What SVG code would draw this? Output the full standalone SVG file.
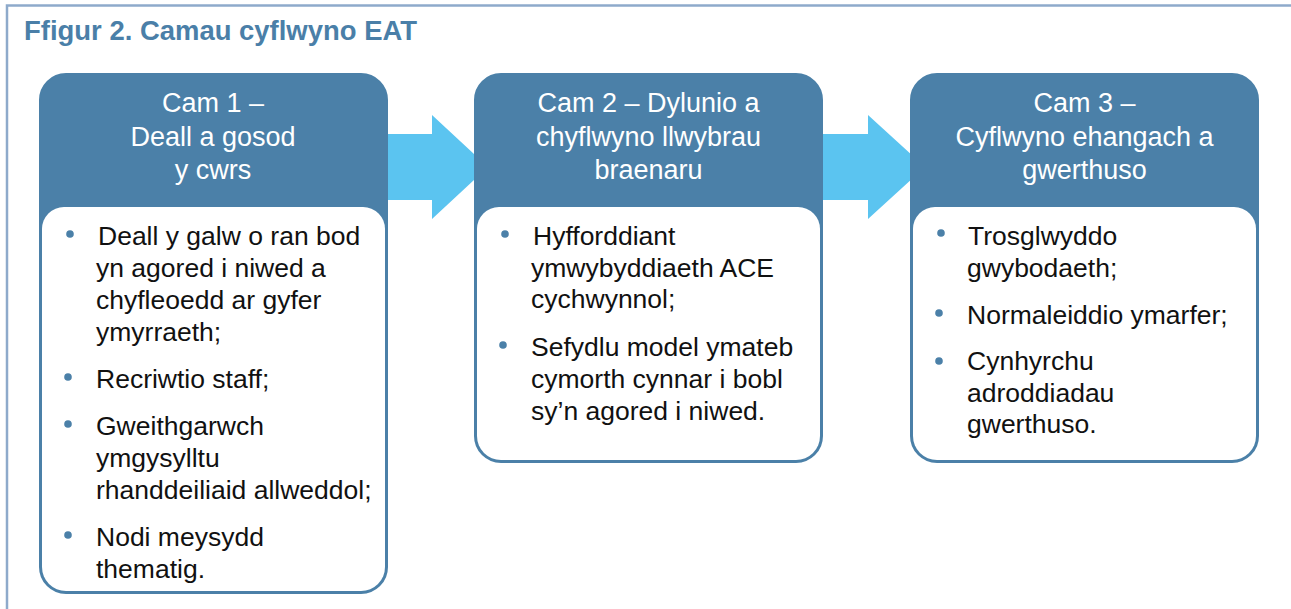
<svg xmlns="http://www.w3.org/2000/svg" width="1291" height="609" viewBox="0 0 1291 609">
<style>
  .frame{fill:none;stroke:#8eaacb;stroke-width:2.5}
  .title{font-family:"Liberation Sans",Arial,sans-serif;font-weight:bold;font-size:27px;fill:#4a7fa8}
  .outer{fill:#4b80a8;stroke:#4b80a8;stroke-width:2}
  .inner{fill:#ffffff}
  .head{font-family:"Liberation Sans",Arial,sans-serif;font-size:27px;fill:#ffffff;text-anchor:middle}
  .body{font-family:"Liberation Sans",Arial,sans-serif;font-size:26.5px;fill:#111111}
  .dot{fill:#4b80a8}
  .arrow{fill:#5bc4f0}
</style>
<rect width="1291" height="609" fill="#ffffff"/>
<path class="frame" d="M7,609 V5.5 H1291"/>
<text class="title" x="24" y="40" textLength="393" lengthAdjust="spacingAndGlyphs">Ffigur 2. Camau cyflwyno EAT</text>

<g id="connectors">
  <path class="arrow" d="M380,134 H432 V115 L488,167 L432,219 V200 H380 Z"/>
  <path class="arrow" d="M815,134 H868 V115 L925,167 L868,219 V200 H815 Z"/>
</g>

<g id="node1">
  <rect class="outer" x="40" y="74" width="347" height="519" rx="26"/>
  <path class="inner" d="M42,229 A22,22 0 0 1 64,207 H363 A22,22 0 0 1 385,229 V567 A24,24 0 0 1 361,591 H66 A24,24 0 0 1 42,567 Z"/>
  <text class="head" x="213" y="112">Cam 1 –</text>
  <text class="head" x="213" y="146">Deall a gosod</text>
  <text class="head" x="213" y="179">y cwrs</text>
  <circle class="dot" cx="70" cy="234" r="3.8"/>
  <text class="body" x="98" y="245">Deall y galw o ran bod</text>
  <text class="body" x="96" y="277">yn agored i niwed a</text>
  <text class="body" x="96" y="309">chyfleoedd ar gyfer</text>
  <text class="body" x="96" y="341">ymyrraeth;</text>
  <circle class="dot" cx="68" cy="377" r="3.8"/>
  <text class="body" x="96" y="388">Recriwtio staff;</text>
  <circle class="dot" cx="68" cy="424" r="3.8"/>
  <text class="body" x="96" y="435">Gweithgarwch</text>
  <text class="body" x="96" y="467">ymgysylltu</text>
  <text class="body" x="96" y="499">rhanddeiliaid allweddol;</text>
  <circle class="dot" cx="68" cy="535" r="3.8"/>
  <text class="body" x="96" y="546">Nodi meysydd</text>
  <text class="body" x="96" y="578">thematig.</text>
</g>

<g id="node2">
  <rect class="outer" x="475" y="74" width="347" height="388" rx="26"/>
  <path class="inner" d="M477,229 A22,22 0 0 1 499,207 H798 A22,22 0 0 1 820,229 V436 A24,24 0 0 1 796,460 H501 A24,24 0 0 1 477,436 Z"/>
  <text class="head" x="648.5" y="112">Cam 2 – Dylunio a</text>
  <text class="head" x="648.5" y="146">chyflwyno llwybrau</text>
  <text class="head" x="648.5" y="179">braenaru</text>
  <circle class="dot" cx="505" cy="234" r="3.8"/>
  <text class="body" x="533" y="245">Hyfforddiant</text>
  <text class="body" x="531" y="277">ymwybyddiaeth ACE</text>
  <text class="body" x="531" y="308">cychwynnol;</text>
  <circle class="dot" cx="503" cy="345" r="3.8"/>
  <text class="body" x="531" y="356">Sefydlu model ymateb</text>
  <text class="body" x="531" y="388">cymorth cynnar i bobl</text>
  <text class="body" x="531" y="420">sy’n agored i niwed.</text>
</g>

<g id="node3">
  <rect class="outer" x="911" y="74" width="347" height="388" rx="26"/>
  <path class="inner" d="M913,229 A22,22 0 0 1 935,207 H1234 A22,22 0 0 1 1256,229 V436 A24,24 0 0 1 1232,460 H937 A24,24 0 0 1 913,436 Z"/>
  <text class="head" x="1084.5" y="112">Cam 3 –</text>
  <text class="head" x="1084.5" y="146">Cyflwyno ehangach a</text>
  <text class="head" x="1084.5" y="179">gwerthuso</text>
  <circle class="dot" cx="941" cy="233" r="3.8"/>
  <text class="body" x="968" y="245">Trosglwyddo</text>
  <text class="body" x="967" y="277">gwybodaeth;</text>
  <circle class="dot" cx="939" cy="313" r="3.8"/>
  <text class="body" x="967" y="324">Normaleiddio ymarfer;</text>
  <circle class="dot" cx="939" cy="361" r="3.8"/>
  <text class="body" x="967" y="370">Cynhyrchu</text>
  <text class="body" x="967" y="402">adroddiadau</text>
  <text class="body" x="967" y="433">gwerthuso.</text>
</g>
</svg>
